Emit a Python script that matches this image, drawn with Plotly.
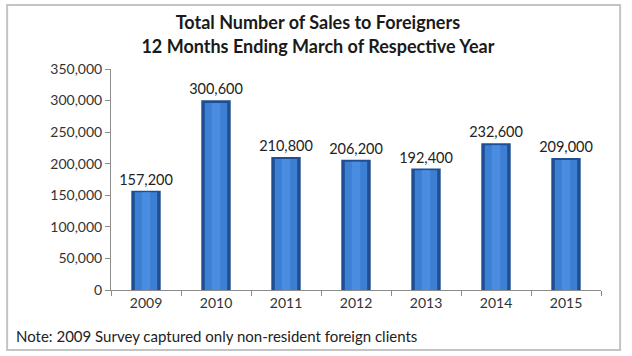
import plotly.graph_objects as go

years = ["2009", "2010", "2011", "2012", "2013", "2014", "2015"]
sales = [157200, 300600, 210800, 206200, 192400, 232600, 209000]
labels = ["157,200", "300,600", "210,800", "206,200", "192,400", "232,600", "209,000"]

FONT = "Lato, Open Sans, sans-serif"

fig = go.Figure()
fig.add_trace(go.Bar(
    x=years, y=sales, width=0.42,
    marker=dict(color="#1f4f92", line=dict(width=0)),
    text=labels, textposition="outside", cliponaxis=False, constraintext="none",
    textfont=dict(size=14.5, color="#222222", family=FONT),
    hoverinfo="skip", showlegend=False,
))
fig.add_trace(go.Bar(
    x=years, y=[v * 0.985 for v in sales], width=0.32,
    marker=dict(color="#3c7fd3", line=dict(width=0)),
    hoverinfo="skip", showlegend=False,
))
fig.add_trace(go.Bar(
    x=years, y=[v * 0.985 for v in sales], width=0.12,
    marker=dict(color="#4a8de0", line=dict(width=0)),
    hoverinfo="skip", showlegend=False,
))

fig.update_layout(
    width=632, height=356,
    margin=dict(l=111, r=31, t=69, b=66, autoexpand=False),
    barmode="overlay",
    paper_bgcolor="white", plot_bgcolor="white",
    font=dict(family=FONT, color="#333333"),
    title=dict(
        text="<b>Total Number of Sales to Foreigners<br>12 Months Ending March of Respective Year</b>",
        x=0.503, xanchor="center", y=0.918, yanchor="middle",
        font=dict(size=18, color="#1a1a1a", family=FONT),
    ),
    xaxis=dict(
        type="category", showline=True, linecolor="#8c8c8c", linewidth=1,
        ticks="outside", tickson="boundaries", ticklen=5, tickcolor="#8c8c8c",
        tickfont=dict(size=14, color="#333333"), showgrid=False, automargin=False,
    ),
    yaxis=dict(
        range=[0, 350000], dtick=50000, tickformat=",",
        showline=True, linecolor="#8c8c8c", linewidth=1,
        ticks="outside", ticklen=5, tickcolor="#8c8c8c",
        tickfont=dict(size=14, color="#333333"), showgrid=False, zeroline=False,
        automargin=False,
    ),
    shapes=[dict(type="rect", xref="paper", yref="paper",
                 x0=-0.212, x1=1.039, y0=-0.271, y1=1.29,
                 line=dict(color="#c4c4c4", width=2))],
    annotations=[dict(
        text="Note: 2009 Survey captured only non-resident foreign clients",
        xref="paper", yref="paper", x=-0.198, y=-0.208, xanchor="left", yanchor="middle",
        showarrow=False, font=dict(size=15, color="#222222", family=FONT),
    )],
)

fig.write_html("out.html", config={"displayModeBar": False},
               post_script="document.body.style.margin='0';document.body.style.overflow='hidden';")
